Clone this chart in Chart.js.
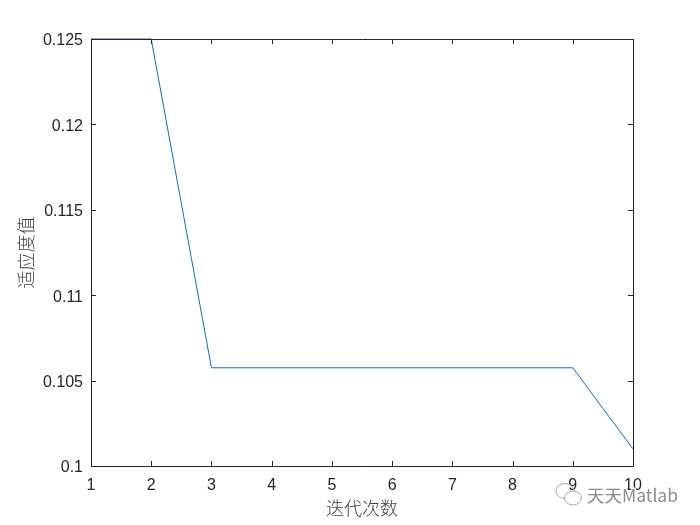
<!DOCTYPE html>
<html>
<head>
<meta charset="utf-8">
<script src="https://cdn.jsdelivr.net/npm/chart.js@4"></script>
<style>
  html, body { margin: 0; padding: 0; background: #fff; }
  #wrap { width: 700px; height: 525px; }
</style>
</head>
<body>
<div id="wrap"><canvas id="fitnessChart" width="700" height="525"></canvas></div>
<script>
const iterations = ['1', '2', '3', '4', '5', '6', '7', '8', '9', '10'];
const fitness = [0.125, 0.125, 0.10575, 0.10575, 0.10575, 0.10575, 0.10575, 0.10575, 0.10575, 0.101];
const yTicks = ['0.1', '0.105', '0.11', '0.115', '0.12', '0.125'];
const xTitle = '迭代次数';
const yTitle = '适应度值';
const watermark = '天天Matlab';

const axisColor = '#262626';
const tickFont = { family: "'Liberation Sans', Arial, sans-serif", size: 16 };
const titleFont = { family: "'Noto Sans CJK SC', sans-serif", size: 18, weight: '300' };

// MATLAB style box: closed frame with the ticks pointing inwards on all four sides
const boxAxes = {
  id: 'boxAxes',
  afterDatasetsDraw(chart) {
    const { ctx, chartArea: a, scales: { x, y } } = chart;
    const len = 5;
    ctx.save();
    ctx.strokeStyle = axisColor;
    ctx.lineWidth = 1;
    ctx.beginPath();
    ctx.rect(a.left + 0.5, a.top + 0.5, a.right - a.left, a.bottom - a.top);
    x.ticks.forEach((t, i) => {
      const px = Math.round(x.getPixelForTick(i)) + 0.5;
      ctx.moveTo(px, a.bottom);
      ctx.lineTo(px, a.bottom - len);
      ctx.moveTo(px, a.top);
      ctx.lineTo(px, a.top + len);
    });
    y.ticks.forEach((t, i) => {
      const py = Math.round(y.getPixelForTick(i)) + 0.5;
      ctx.moveTo(a.left, py);
      ctx.lineTo(a.left + len, py);
      ctx.moveTo(a.right, py);
      ctx.lineTo(a.right - len, py);
    });
    ctx.stroke();

    // y labels sit a touch below their tick in the original, so they are placed here
    ctx.fillStyle = axisColor;
    ctx.font = `${tickFont.size}px ${tickFont.family}`;
    ctx.textAlign = 'right';
    ctx.textBaseline = 'middle';
    y.ticks.forEach((t, i) => {
      ctx.fillText(yTicks[i], a.left - 8, y.getPixelForTick(i) + 2);
    });
    ctx.restore();
  }
};

// faint WeChat style stamp in the lower right corner
const stamp = {
  id: 'stamp',
  afterDraw(chart) {
    const { ctx } = chart;
    ctx.save();
    ctx.strokeStyle = '#a8a8a8';
    ctx.lineWidth = 1;
    ctx.beginPath();
    ctx.ellipse(565, 491, 9, 7.5, 0, 0, Math.PI * 2);
    ctx.stroke();
    ctx.fillStyle = '#ffffff';
    ctx.beginPath();
    ctx.ellipse(573, 498, 8.5, 7, 0, 0, Math.PI * 2);
    ctx.fill();
    ctx.stroke();
    ctx.font = "17.5px 'Noto Sans CJK SC', sans-serif";
    ctx.textBaseline = 'middle';
    ctx.lineWidth = 3;
    ctx.strokeStyle = 'rgba(255,255,255,0.9)';
    ctx.strokeText(watermark, 587, 495);
    ctx.fillStyle = '#8c8c8c';
    ctx.fillText(watermark, 587, 495);
    ctx.restore();
  }
};

new Chart(document.getElementById('fitnessChart').getContext('2d'), {
  type: 'line',
  data: {
    labels: iterations,
    datasets: [{
      data: fitness,
      borderColor: '#0072BD',
      borderWidth: 1,
      pointRadius: 0,
      tension: 0,
      fill: false,
      clip: false
    }]
  },
  options: {
    responsive: false,
    animation: false,
    layout: { padding: { top: 39, right: 67, left: 0, bottom: 0 } },
    plugins: { legend: { display: false }, tooltip: { enabled: false } },
    scales: {
      x: {
        type: 'category',
        offset: false,
        grid: { display: false, drawTicks: false },
        border: { display: false },
        ticks: { color: axisColor, font: tickFont, padding: 10, maxRotation: 0, autoSkip: false },
        title: { display: true, text: xTitle, color: '#404040', font: titleFont, padding: { top: 0, bottom: 6 } },
        afterFit(scale) { scale.height = 59; }
      },
      y: {
        min: 0.1,
        max: 0.125,
        grid: { display: false, drawTicks: false },
        border: { display: false },
        ticks: { stepSize: 0.005, display: false },
        title: { display: true, text: yTitle, color: '#404040', font: titleFont, padding: { top: 15, bottom: 0 } },
        afterFit(scale) { scale.width = 91; }
      }
    }
  },
  plugins: [boxAxes, stamp]
});
</script>
</body>
</html>
